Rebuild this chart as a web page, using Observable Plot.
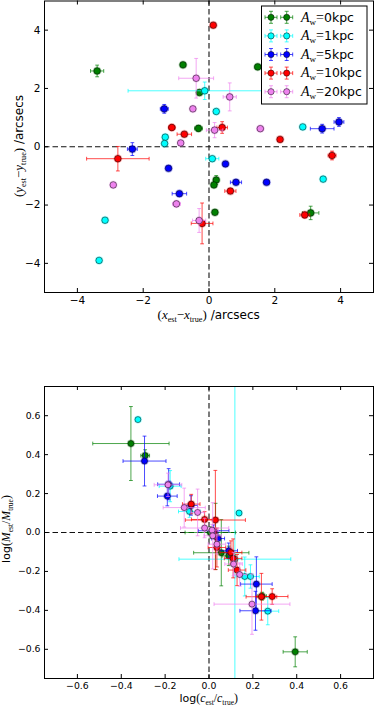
<!DOCTYPE html>
<html><head><meta charset="utf-8">
<script src="https://cdn.jsdelivr.net/npm/d3@7"></script>
<script src="https://cdn.jsdelivr.net/npm/@observablehq/plot@0.6"></script>
<style>
html,body{margin:0;padding:0;background:#fff;}
#chart svg{display:block;}
</style></head><body><div id="chart"></div>
<script>
// Series: A_w = 0, 1, 5, 10, 20 kpc
const seriesLabels = ["0kpc", "1kpc", "5kpc", "10kpc", "20kpc"];
const seriesColors = ["#008000", "#00ffff", "#0000ff", "#ff0000", "#ee82ee"];

// Top panel: [x_est - x_true, y_est - y_true, xerr, yerr] (arcsecs)
const topGreen = [
  [-3.40, 2.60, 0.20, 0.20], [-0.79, 2.81, 0.08, 0.06], [1.48, 2.74, 0.08, 0.06],
  [-0.29, 1.86, 0.08, 0.08], [-0.32, 0.63, 0.12, 0.10], [0.22, -1.14, 0.06, 0.15],
  [0.15, -1.31, 0.05, 0.06], [0.18, -2.25, 0.05, 0.05], [3.09, -2.27, 0.25, 0.23]
];
const topCyan = [
  [-0.13, 1.92, 2.33, 0.30], [0.22, 1.21, 0.05, 0.05], [2.85, 0.68, 0.05, 0.05],
  [-1.33, 0.33, 0.05, 0.05], [-1.35, 0.11, 0.05, 0.05], [0.10, -0.41, 0.20, 0.06],
  [3.47, -1.11, 0.05, 0.05], [-3.16, -2.52, 0.05, 0.05], [-3.34, -3.90, 0.05, 0.05]
];
const topBlue = [
  [-1.36, 1.30, 0.12, 0.15], [3.95, 0.85, 0.15, 0.15], [3.44, 0.62, 0.36, 0.15],
  [-2.33, -0.08, 0.15, 0.22], [-1.23, -0.74, 0.05, 0.05], [0.50, -0.59, 0.05, 0.05],
  [0.82, -1.22, 0.17, 0.06], [1.75, -1.22, 0.08, 0.06], [-0.90, -1.61, 0.22, 0.08]
];
const topRed = [
  [0.13, 4.17, 0.04, 0.04], [-1.13, 0.66, 0.10, 0.10], [-0.75, 0.43, 0.22, 0.06],
  [0.40, 0.66, 0.16, 0.20], [2.16, 0.25, 0.04, 0.04], [-2.77, -0.41, 0.95, 0.42],
  [3.74, -0.30, 0.12, 0.15], [0.65, -1.52, 0.17, 0.08], [2.91, -2.34, 0.15, 0.10],
  [-0.21, -2.63, 0.33, 0.70]
];
const topViolet = [
  [-0.39, 2.35, 0.53, 0.68], [0.63, 1.71, 0.20, 0.48], [-0.49, 1.30, 0.05, 0.05],
  [0.17, 0.57, 0.25, 0.26], [1.56, 0.62, 0.10, 0.06], [-0.86, 0.13, 0.05, 0.05],
  [-2.91, -1.31, 0.05, 0.05], [-0.99, -1.96, 0.12, 0.10], [-0.30, -2.53, 0.20, 0.41]
];

// Bottom panel: [log(c_est/c_true), log(M_est/M_true), xerr, yerr]
const botGreen = [
  [-0.356, 0.457, 0.174, 0.19], [-0.291, 0.395, 0.02, 0.03], [0.006, 0.0, 0.115, 0.03],
  [0.03, -0.02, 0.02, 0.17], [0.056, -0.104, 0.126, 0.17], [0.09, -0.12, 0.03, 0.05],
  [0.242, -0.327, 0.02, 0.02], [0.393, -0.613, 0.055, 0.077]
];
const botCyan = [
  [-0.324, 0.58, 0.01, 0.01], [-0.177, 0.238, 0.05, 0.08], [-0.089, 0.108, 0.05, 0.03],
  [0.137, 0.10, 0.01, 0.01], [0.118, -0.137, 0.255, 1.0], [0.163, -0.226, 0.04, 0.10],
  [0.189, -0.226, 0.04, 0.06], [0.268, -0.404, 0.05, 0.07]
];
const botBlue = [
  [-0.294, 0.367, 0.098, 0.128], [-0.184, 0.248, 0.05, 0.08], [-0.19, 0.187, 0.045, 0.05],
  [-0.082, 0.139, 0.03, 0.05], [0.021, 0.009, 0.07, 0.03], [0.041, -0.031, 0.03, 0.04],
  [0.09, -0.094, 0.04, 0.04], [0.216, -0.265, 0.072, 0.14], [0.212, -0.402, 0.071, 0.10]
];
const botRed = [
  [-0.081, 0.146, 0.04, 0.05], [-0.020, 0.067, 0.06, 0.04], [0.029, 0.064, 0.137, 0.255],
  [0.036, -0.077, 0.04, 0.10], [0.10, -0.103, 0.05, 0.06], [0.11, -0.133, 0.04, 0.10],
  [0.128, -0.193, 0.04, 0.08], [0.239, -0.33, 0.07, 0.12], [0.288, -0.329, 0.072, 0.04]
];
const botViolet = [
  [-0.187, 0.245, 0.063, 0.06], [-0.113, 0.128, 0.096, 0.10], [-0.052, 0.103, 0.03, 0.12],
  [-0.020, 0.023, 0.11, 0.05], [0.014, 0.012, 0.03, 0.03], [0.017, -0.017, 0.04, 0.17],
  [0.036, -0.06, 0.04, 0.05], [0.112, -0.162, 0.04, 0.06], [0.14, -0.216, 0.03, 0.06],
  [0.196, -0.368, 0.173, 0.155]
];

const topXTicks = [-4, -2, 0, 2, 4];
const topYTicks = [-4, -2, 0, 2, 4];
const botXTicks = [-0.6, -0.4, -0.2, 0.0, 0.2, 0.4, 0.6];
const botYTicks = [-0.6, -0.4, -0.2, 0.0, 0.2, 0.4, 0.6];

const W = 374, ML = 44, MR = 1;
const EB_OPACITY = 0.7;

const vCap = {draw(ctx, size) { const r = Math.sqrt(size / Math.PI); ctx.moveTo(0, -r); ctx.lineTo(0, r); }};
const hCap = {draw(ctx, size) { const r = Math.sqrt(size / Math.PI); ctx.moveTo(-r, 0); ctx.lineTo(r, 0); }};

function panel({height, marginTop, marginBottom, xDomain, yDomain, xTicks, yTicks, fmt, fontSize, series, dotR}) {
  const frameH = height - marginTop - marginBottom;
  const frameW = W - ML - MR;
  const marks = [
    Plot.ruleX([0], {stroke: "#111", strokeWidth: 1.1, strokeDasharray: "5.5,3"}),
    Plot.ruleY([0], {stroke: "#111", strokeWidth: 1.1, strokeDasharray: "5.5,3"})
  ];
  series.forEach((data, i) => {
    const c = seriesColors[i];
    const eb = {stroke: c, strokeOpacity: EB_OPACITY, strokeWidth: 1, clip: true};
    marks.push(
      Plot.link(data, {x1: d => d[0] - d[2], x2: d => d[0] + d[2], y1: d => d[1], y2: d => d[1], ...eb}),
      Plot.link(data, {x1: d => d[0], x2: d => d[0], y1: d => d[1] - d[3], y2: d => d[1] + d[3], ...eb}),
      Plot.dot(data, {x: d => d[0] - d[2], y: d => d[1], symbol: vCap, r: 1.9, ...eb}),
      Plot.dot(data, {x: d => d[0] + d[2], y: d => d[1], symbol: vCap, r: 1.9, ...eb}),
      Plot.dot(data, {x: d => d[0], y: d => d[1] - d[3], symbol: hCap, r: 1.9, ...eb}),
      Plot.dot(data, {x: d => d[0], y: d => d[1] + d[3], symbol: hCap, r: 1.9, ...eb}),
      Plot.dot(data, {x: d => d[0], y: d => d[1], r: dotR + 1.1, fill: c, fillOpacity: 0.3, stroke: "none", clip: true}),
      Plot.dot(data, {x: d => d[0], y: d => d[1], r: dotR, fill: c, stroke: "#000", strokeWidth: 0.5, clip: true})
    );
  });
  marks.push(
    Plot.ruleX(xTicks, {insetTop: frameH - 4, stroke: "#000"}),
    Plot.ruleX(xTicks, {insetBottom: frameH - 4, stroke: "#000"}),
    Plot.ruleY(yTicks, {insetRight: frameW - 4, stroke: "#000"}),
    Plot.ruleY(yTicks, {insetLeft: frameW - 4, stroke: "#000"}),
    Plot.axisX({ticks: xTicks, tickSize: 0, tickPadding: 4, tickFormat: fmt, label: null, fontSize}),
    Plot.axisY({ticks: yTicks, tickSize: 0, tickPadding: 4, tickFormat: fmt, label: null, fontSize}),
    Plot.frame({stroke: "#000", strokeWidth: 1})
  );
  return Plot.plot({
    width: W, height, marginTop, marginBottom, marginLeft: ML, marginRight: MR,
    x: {domain: xDomain}, y: {domain: yDomain},
    style: {fontFamily: "DejaVu Sans", fontSize: fontSize + "px", color: "#000", background: "#fff", overflow: "visible"},
    marks
  });
}

const fmtInt = d3.format("d");
const fmt1 = d3.format(".1f");

const topSvg = panel({height: 340, marginTop: 0.5, marginBottom: 48, xDomain: [-5, 5], yDomain: [-5, 5],
  xTicks: topXTicks, yTicks: topYTicks, fmt: fmtInt, fontSize: 10.5,
  series: [topGreen, topCyan, topBlue, topRed, topViolet], dotR: 3.3});
const botSvg = panel({height: 369, marginTop: 46, marginBottom: 31, xDomain: [-0.75, 0.75], yDomain: [-0.75, 0.75],
  xTicks: botXTicks, yTicks: botYTicks, fmt: fmt1, fontSize: 9.3,
  series: [botGreen, botCyan, botBlue, botRed, botViolet], dotR: 3.0});

const chart = document.getElementById("chart");
chart.appendChild(topSvg);
chart.appendChild(botSvg);

// Label with math-like parts
function mathText(svg, x, y, rotate, parts, size) {
  const t = d3.select(svg).append("text")
    .attr("transform", `translate(${x},${y}) rotate(${rotate})`)
    .attr("text-anchor", "middle").attr("font-size", size).attr("fill", "#000")
    .attr("font-family", "DejaVu Sans");
  let shift = 0;
  parts.forEach(p => {
    const ts = t.append("tspan").text(p.t);
    if (p.serif) ts.attr("font-family", "Liberation Serif");
    if (p.it) ts.attr("font-style", "italic");
    const want = p.sub ? size * 0.28 : 0;
    if (p.sub) ts.attr("font-size", size * 0.68);
    else if (p.serif) ts.attr("font-size", size * 1.08);
    if (want !== shift) { ts.attr("dy", want - shift); shift = want; }
  });
  return t;
}
const S = (t) => ({t, serif: true});
const I = (t) => ({t, serif: true, it: true});
const B = (t) => ({t, serif: true, sub: true});
const N = (t) => ({t});

mathText(topSvg, 208.7, 319, 0, [S("("), I("x"), B("est"), S("−"), I("x"), B("true"), S(")"), N(" /arcsecs")], 12);
mathText(topSvg, 22.5, 146, -90, [S("("), I("y"), B("est"), S("−"), I("y"), B("true"), S(")"), N(" /arcsecs")], 12);
mathText(botSvg, 208.7, 362, 0, [N("log"), S("("), I("c"), B("est"), S("/"), I("c"), B("true"), S(")")], 11);
mathText(botSvg, 9.5, 189, -90, [N("log"), S("("), I("M"), B("est"), S("/"), I("M"), B("true"), S(")")], 11);

// Legend (top panel, upper right)
const lg = d3.select(topSvg).append("g").attr("text-anchor", "start");
lg.append("rect").attr("x", 261.5).attr("y", 6).attr("width", 105.5).attr("height", 98)
  .attr("fill", "#fff").attr("stroke", "#000").attr("stroke-width", 1);
seriesLabels.forEach((lab, i) => {
  const cy = 17.3 + i * 18.6, c = seriesColors[i];
  [271, 286.7].forEach(cx => {
    const g = lg.append("g").attr("stroke", c).attr("stroke-opacity", EB_OPACITY).attr("fill", "none");
    g.append("line").attr("x1", cx - 6).attr("x2", cx + 6).attr("y1", cy).attr("y2", cy);
    g.append("line").attr("x1", cx).attr("x2", cx).attr("y1", cy - 6).attr("y2", cy + 6);
    g.append("line").attr("x1", cx - 6).attr("x2", cx - 6).attr("y1", cy - 2).attr("y2", cy + 2);
    g.append("line").attr("x1", cx + 6).attr("x2", cx + 6).attr("y1", cy - 2).attr("y2", cy + 2);
    g.append("line").attr("x1", cx - 2).attr("x2", cx + 2).attr("y1", cy - 6).attr("y2", cy - 6);
    g.append("line").attr("x1", cx - 2).attr("x2", cx + 2).attr("y1", cy + 6).attr("y2", cy + 6);
    lg.append("circle").attr("cx", cx).attr("cy", cy).attr("r", 3.1).attr("fill", c)
      .attr("stroke", "#000").attr("stroke-width", 0.5);
  });
  const t = lg.append("text").attr("x", 301).attr("y", cy + 4.3).attr("font-size", 12.5)
    .attr("text-anchor", "start").attr("font-family", "DejaVu Sans").attr("fill", "#000");
  t.append("tspan").attr("font-family", "Liberation Serif").attr("font-style", "italic").attr("font-size", 14).text("A");
  t.append("tspan").attr("font-family", "Liberation Serif").attr("font-size", 9).attr("dy", 3).text("w");
  t.append("tspan").attr("font-family", "Liberation Serif").attr("font-size", 14).attr("dy", -3).text("=");
  t.append("tspan").text(lab);
});
</script>
</body></html>
